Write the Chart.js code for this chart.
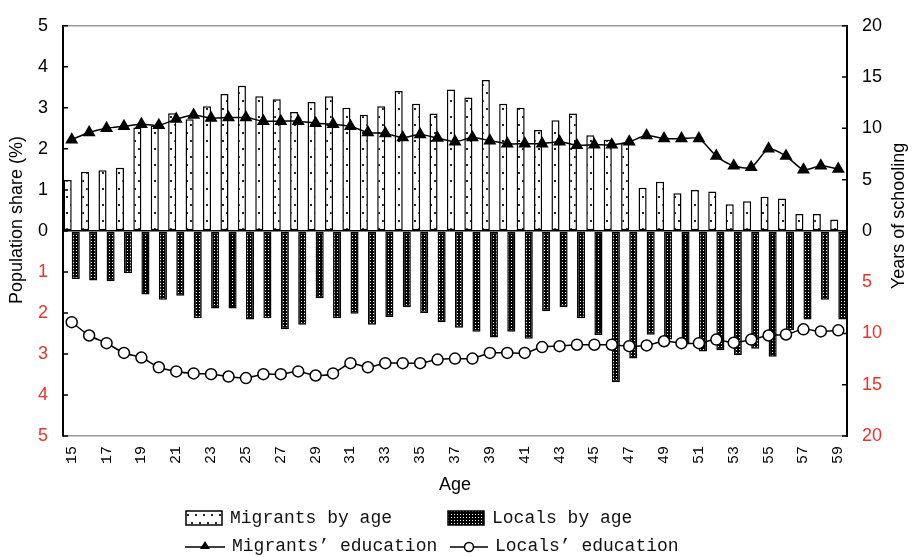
<!DOCTYPE html>
<html>
<head>
<meta charset="utf-8">
<script src="https://cdn.jsdelivr.net/npm/chart.js@4"></script>
<style>
body{margin:0;background:#fff;}
#wrap{position:relative;width:913px;height:557px;}
#legend{position:absolute;left:185px;top:504px;font-family:"Liberation Mono",monospace;font-size:18px;color:#111;}
.row{display:flex;align-items:center;height:28px;white-space:pre;}
.item{display:flex;align-items:center;}
.item canvas{margin-right:7px;}
</style>
</head>
<body>
<div id="wrap">
<canvas id="myChart" width="913" height="557"></canvas>
<div id="legend">
  <div class="row">
    <div class="item" style="width:262px"><canvas id="ic1" width="38" height="16"></canvas>Migrants by age</div>
    <div class="item"><canvas id="ic2" width="38" height="16"></canvas>Locals by age</div>
  </div>
  <div class="row">
    <div class="item" style="width:265px"><canvas id="ic3" width="40" height="16"></canvas>Migrants’ education</div>
    <div class="item"><canvas id="ic4" width="38" height="16"></canvas>Locals’ education</div>
  </div>
</div>
</div>
<script>
const ages = []
for (let a = 15; a <= 59; a++) ages.push(String(a))

// population share (%), migrants above the axis, locals below
const migrantsShare = [1.24,1.44,1.48,1.54,2.52,2.57,2.87,2.72,3.04,3.34,3.54,3.28,3.21,2.9,3.14,3.28,3.0,2.83,3.04,3.41,3.1,2.86,3.45,3.25,3.68,3.1,3.0,2.46,2.7,2.86,2.33,2.22,2.14,1.05,1.2,0.92,1.0,0.96,0.65,0.72,0.83,0.79,0.41,0.41,0.28]
const localsShare = [1.17,1.21,1.23,1.03,1.55,1.68,1.58,2.13,1.89,1.89,2.16,2.13,2.4,2.29,1.64,2.13,2.02,2.29,2.1,1.86,2.0,2.23,2.36,2.46,2.6,2.46,2.63,1.96,1.86,2.13,2.54,3.69,3.11,2.53,2.65,2.75,2.94,2.91,3.03,2.87,3.07,2.42,2.16,1.68,2.16]

// years of schooling
const migrantsEdu = [8.9,9.6,10.0,10.2,10.4,10.3,10.9,11.3,11.0,11.05,11.05,10.7,10.7,10.7,10.5,10.4,10.2,9.6,9.5,9.1,9.4,9.05,8.7,9.1,8.8,8.5,8.5,8.5,8.7,8.35,8.4,8.4,8.7,9.3,9.0,9.0,9.0,7.3,6.35,6.2,8.0,7.3,5.97,6.35,6.03]
const localsEdu = [8.9,10.2,10.95,11.9,12.35,13.3,13.7,13.9,13.97,14.2,14.35,13.97,13.97,13.7,14.1,13.9,12.9,13.3,12.9,12.9,12.9,12.55,12.45,12.45,11.9,11.9,11.9,11.33,11.24,11.1,11.1,11.1,11.24,11.17,10.76,10.95,10.95,10.6,10.9,10.6,10.2,10.1,9.6,9.8,9.7]

const shareTicks = [-5,-4,-3,-2,-1,0,1,2,3,4,5]
const eduTicks = [-20,-15,-10,-5,0,5,10,15,20]

const RED = '#e8342a'

const dotPattern = () => {
    const c = document.createElement('canvas')
    c.width = 8; c.height = 16
    const g = c.getContext('2d')
    g.fillStyle = '#fff'
    g.fillRect(0, 0, 8, 16)
    g.fillStyle = '#222'
    g.fillRect(2, 4, 2, 2)
    g.fillRect(6, 12, 2, 2)
    return g.createPattern(c, 'repeat')
}
const checkPattern = () => {
    const c = document.createElement('canvas')
    c.width = 3; c.height = 3
    const g = c.getContext('2d')
    g.fillStyle = '#000'
    g.fillRect(0, 0, 3, 3)
    g.fillStyle = '#fff'
    g.fillRect(1, 1, 1, 1)
    return g.createPattern(c, 'repeat')
}

const extras = {
    id: 'extras',
    afterDraw(chart) {
        const {ctx, chartArea} = chart
        const y = chart.scales.y, y2 = chart.scales.y2
        ctx.save()
        // top frame line
        ctx.strokeStyle = '#999'
        ctx.lineWidth = 1.5
        ctx.beginPath()
        ctx.moveTo(chartArea.left, chartArea.top)
        ctx.lineTo(chartArea.right, chartArea.top)
        ctx.stroke()
        // inward ticks
        ctx.strokeStyle = '#000'
        ctx.lineWidth = 1.5
        ctx.beginPath()
        shareTicks.forEach(v => {
            const p = y.getPixelForValue(v)
            ctx.moveTo(chartArea.left, p); ctx.lineTo(chartArea.left + 5, p)
        })
        eduTicks.forEach(v => {
            const p = y2.getPixelForValue(v)
            ctx.moveTo(chartArea.right, p); ctx.lineTo(chartArea.right - 5, p)
        })
        ctx.stroke()
        // axis titles
        ctx.fillStyle = '#000'
        ctx.font = '18px "Liberation Sans", Arial, sans-serif'
        ctx.textAlign = 'center'
        ctx.textBaseline = 'middle'
        ctx.fillText('Age', 455, 485)
        ctx.translate(17, 220)
        ctx.rotate(-Math.PI / 2)
        ctx.fillText('Population share (%)', 0, 0)
        ctx.restore()
        ctx.save()
        ctx.fillStyle = '#000'
        ctx.font = '18px "Liberation Sans", Arial, sans-serif'
        ctx.textAlign = 'center'
        ctx.textBaseline = 'middle'
        ctx.translate(899, 216)
        ctx.rotate(-Math.PI / 2)
        ctx.fillText('Years of schooling', 0, 0)
        ctx.restore()
    }
}

const tickFont = {family: '"Liberation Sans", Arial, sans-serif', size: 18}

const ctx = document.getElementById('myChart')
new Chart(ctx, {
    type: 'bar',
    data: {
        labels: ages,
        datasets: [
            {
                label: 'Migrants’ education',
                type: 'line',
                data: migrantsEdu,
                yAxisID: 'y2',
                borderColor: '#000',
                borderWidth: 1.5,
                backgroundColor: '#000',
                pointStyle: 'triangle',
                pointRadius: 6,
                pointBackgroundColor: '#000',
                tension: 0.25,
                order: 0
            },
            {
                label: 'Locals’ education',
                type: 'line',
                data: localsEdu.map(v => -v),
                yAxisID: 'y2',
                borderColor: '#000',
                borderWidth: 1.5,
                pointStyle: 'circle',
                pointRadius: 5.5,
                pointBorderWidth: 1.5,
                pointBackgroundColor: '#fff',
                tension: 0.25,
                order: 0
            },
            {
                label: 'Migrants by age',
                data: migrantsShare,
                yAxisID: 'y',
                backgroundColor: dotPattern(),
                borderColor: '#000',
                borderWidth: 1.5,
                borderSkipped: false,
                categoryPercentage: 0.93,
                barPercentage: 1,
                order: 1
            },
            {
                label: 'Locals by age',
                data: localsShare.map(v => -v),
                yAxisID: 'y',
                backgroundColor: checkPattern(),
                borderColor: '#000',
                borderWidth: 1.5,
                borderSkipped: false,
                categoryPercentage: 0.93,
                barPercentage: 1,
                order: 1
            }
        ]
    },
    options: {
        responsive: false,
        animation: false,
        layout: {padding: {top: 16, left: 0, right: 0, bottom: 0}},
        plugins: {legend: {display: false}, tooltip: {enabled: false}},
        scales: {
            x: {
                grid: {display: false, drawTicks: false},
                border: {color: '#999', width: 1.5},
                ticks: {
                    autoSkip: false,
                    minRotation: 90,
                    maxRotation: 90,
                    padding: 10,
                    color: '#000',
                    font: {family: '"Liberation Mono", monospace', size: 15},
                    callback: (v, i) => i % 2 === 0 ? ages[i] : ''
                },
                afterFit: s => { s.height = 121 }
            },
            y: {
                position: 'left',
                min: -5,
                max: 5,
                afterBuildTicks: s => { s.ticks = shareTicks.map(v => ({value: v})) },
                grid: {
                    drawTicks: false,
                    color: c => c.tick && c.tick.value === 0 ? '#000' : 'rgba(0,0,0,0)',
                    lineWidth: 1.5
                },
                border: {color: '#000', width: 2},
                ticks: {
                    padding: 15,
                    font: tickFont,
                    color: c => c.tick && c.tick.value < 0 ? RED : '#000',
                    callback: v => Math.abs(v)
                },
                afterFit: s => { s.width = 63 }
            },
            y2: {
                position: 'right',
                min: -20,
                max: 20,
                afterBuildTicks: s => { s.ticks = eduTicks.map(v => ({value: v})) },
                grid: {display: false, drawTicks: false},
                border: {color: '#000', width: 2},
                ticks: {
                    padding: 15,
                    font: tickFont,
                    color: c => c.tick && c.tick.value < 0 ? RED : '#000',
                    callback: v => Math.abs(v)
                },
                afterFit: s => { s.width = 66 }
            }
        }
    },
    plugins: [extras]
})

// legend icons
const icon = (id, draw) => {
    const g = document.getElementById(id).getContext('2d')
    draw(g)
}
icon('ic1', g => {
    g.fillStyle = dotPattern()
    g.fillRect(1, 1, 36, 14)
    g.strokeStyle = '#000'; g.lineWidth = 1.5
    g.strokeRect(1, 1, 36, 14)
})
icon('ic2', g => {
    g.fillStyle = checkPattern()
    g.fillRect(1, 1, 36, 14)
    g.strokeStyle = '#000'; g.lineWidth = 1.5
    g.strokeRect(1, 1, 36, 14)
})
icon('ic3', g => {
    g.strokeStyle = '#000'; g.lineWidth = 1.5
    g.beginPath(); g.moveTo(0, 9); g.lineTo(40, 9); g.stroke()
    g.fillStyle = '#000'
    g.beginPath(); g.moveTo(20, 3); g.lineTo(25, 11); g.lineTo(15, 11); g.closePath(); g.fill()
})
icon('ic4', g => {
    g.strokeStyle = '#000'; g.lineWidth = 1.5
    g.beginPath(); g.moveTo(0, 9); g.lineTo(38, 9); g.stroke()
    g.fillStyle = '#fff'
    g.beginPath(); g.arc(19, 9, 4.5, 0, Math.PI * 2); g.fill(); g.stroke()
})
</script>
</body>
</html>
